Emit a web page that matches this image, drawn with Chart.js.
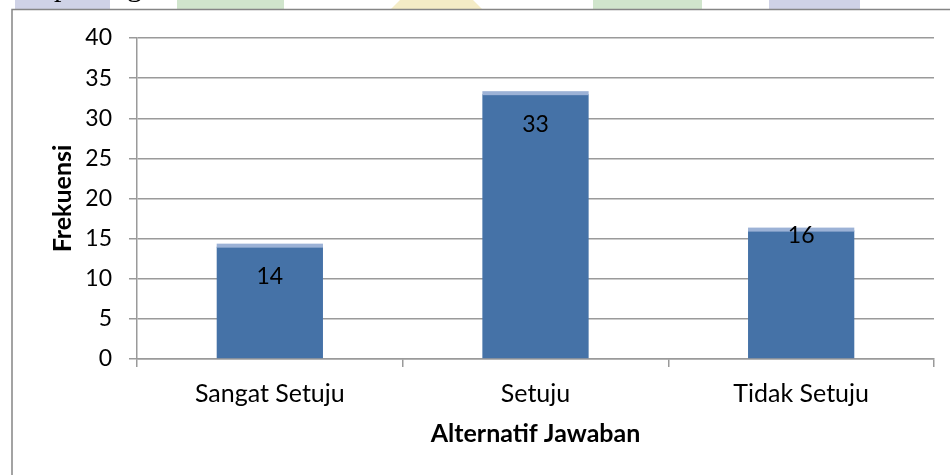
<!DOCTYPE html>
<html>
<head>
<meta charset="utf-8">
<script src="https://cdn.jsdelivr.net/npm/chart.js@4"></script>
<style>
  html, body { margin: 0; padding: 0; background: #fff; }
  #wrap { width: 950px; height: 475px; position: relative; }
</style>
</head>
<body>
<div id="wrap"><canvas id="jawabanChart" width="950" height="475"></canvas></div>
<script>
const categories = ['Sangat Setuju', 'Setuju', 'Tidak Setuju'];
const frekuensi = [14, 33, 16];
const yTicks = [0, 5, 10, 15, 20, 25, 30, 35, 40];

const FONT = 'Lato, Carlito, Calibri, sans-serif';

// page bits behind the chart: scanned strip at the top and the outer frame
const frame = {
    id: 'frame',
    beforeDraw(chart) {
        const ctx = chart.ctx;
        ctx.save();
        ctx.fillStyle = '#fff';
        ctx.fillRect(0, 0, chart.width, chart.height);

        ctx.fillStyle = '#cfd2e6';
        ctx.fillRect(15, 0, 95, 10);
        ctx.fillRect(769, 0, 91, 10);
        ctx.fillStyle = '#d0e5cc';
        ctx.fillRect(177, 0, 107, 10);
        ctx.fillRect(593, 0, 109, 10);
        ctx.fillStyle = '#f4ecc6';
        ctx.beginPath();
        ctx.moveTo(390, 10);
        ctx.lineTo(400, 0);
        ctx.lineTo(473, 0);
        ctx.lineTo(483, 10);
        ctx.closePath();
        ctx.fill();

        ctx.fillStyle = '#000';
        ctx.font = '30px "Liberation Serif", serif';
        ctx.fillText('p', 54, -4);
        ctx.fillText('g', 127, -4);

        ctx.strokeStyle = '#858585';
        ctx.lineWidth = 1.5;
        ctx.beginPath();
        ctx.moveTo(12, 476);
        ctx.lineTo(12, 9.5);
        ctx.lineTo(951, 9.5);
        ctx.stroke();
        ctx.restore();
    }
};

// light top face of each bar and the value labels inside the bars
const labelOffsets = [30, 30, 5];
const barLabels = {
    id: 'barLabels',
    afterDatasetsDraw(chart) {
        const ctx = chart.ctx;
        const meta = chart.getDatasetMeta(0);
        ctx.save();
        meta.data.forEach((bar) => {
            ctx.fillStyle = '#9cb2d6';
            ctx.fillRect(bar.x - bar.width / 2, bar.y - 3, bar.width, 4);
        });
        ctx.fillStyle = '#000';
        ctx.font = '23px ' + FONT;
        ctx.textAlign = 'center';
        ctx.textBaseline = 'middle';
        meta.data.forEach((bar, i) => {
            ctx.fillText(String(frekuensi[i]), bar.x, bar.y + labelOffsets[i]);
        });
        ctx.restore();
    }
};

const data = {
    labels: categories,
    datasets: [{
        label: 'Frekuensi',
        data: frekuensi,
        backgroundColor: '#4572a7',
        barPercentage: 0.4,
        categoryPercentage: 1,
    }]
};

const config = {
    type: 'bar',
    data: data,
    options: {
        responsive: false,
        animation: false,
        layout: {
            padding: { left: 14, top: 38, right: 16, bottom: 0 },
        },
        plugins: {
            legend: { display: false },
            tooltip: { enabled: false },
        },
        scales: {
            x: {
                afterFit(axis) { axis.height = 116; },
                grid: {
                    offset: true,
                    drawOnChartArea: false,
                    tickLength: 8,
                    color: '#9a9a9a',
                    lineWidth: 1.5,
                },
                border: { color: '#9a9a9a', width: 1.5 },
                ticks: {
                    color: '#000',
                    padding: 12,
                    font: { family: FONT, size: 25 },
                },
                title: {
                    display: true,
                    text: 'Alternatif Jawaban',
                    color: '#000',
                    font: { family: FONT, size: 25, weight: 'bold' },
                    padding: { top: 0, bottom: 26 },
                },
            },
            y: {
                min: 0,
                max: 40,
                afterFit(axis) { axis.width = 123; },
                afterBuildTicks(axis) { axis.ticks = yTicks.map(v => ({ value: v })); },
                grid: {
                    color: '#9a9a9a',
                    lineWidth: 1.5,
                    tickLength: 8,
                },
                border: { color: '#9a9a9a', width: 1.5 },
                ticks: {
                    color: '#000',
                    padding: 17,
                    font: { family: FONT, size: 23 },
                },
                title: {
                    display: true,
                    text: 'Frekuensi',
                    color: '#000',
                    font: { family: FONT, size: 25, weight: 'bold' },
                    padding: { top: 34, bottom: 0 },
                },
            },
        },
    },
    plugins: [frame, barLabels],
};

const jawabanChart = new Chart(
    document.getElementById('jawabanChart'),
    config
);
</script>
</body>
</html>
